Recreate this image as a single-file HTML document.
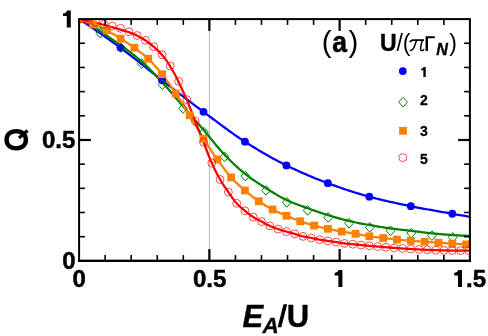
<!DOCTYPE html>
<html><head><meta charset="utf-8"><title>chart</title>
<style>html,body{margin:0;padding:0;background:#fff;}body{width:488px;height:336px;position:relative;overflow:hidden;font-family:"Liberation Sans",sans-serif;}</style>
</head><body>
<svg width="488" height="336" viewBox="0 0 488 336" style="position:absolute;left:0;top:0;will-change:transform">
<defs><clipPath id="c"><rect x="79.10" y="19.10" width="390.80" height="241.75"/></clipPath></defs>
<line x1="209.37" y1="19.10" x2="209.37" y2="260.85" stroke="#b8b8b8" stroke-width="1"/>
<g clip-path="url(#c)">
<path d="M79.10,19.10 L80.41,19.95 L81.71,20.81 L83.02,21.67 L84.33,22.53 L85.64,23.40 L86.94,24.27 L88.25,25.14 L89.56,26.02 L90.86,26.90 L92.17,27.78 L93.48,28.67 L94.78,29.56 L96.09,30.46 L97.40,31.36 L98.71,32.26 L100.01,33.17 L101.32,34.08 L102.63,34.99 L103.93,35.91 L105.24,36.83 L106.55,37.75 L107.85,38.68 L109.16,39.61 L110.47,40.54 L111.78,41.48 L113.08,42.42 L114.39,43.37 L115.70,44.31 L117.00,45.26 L118.31,46.22 L119.62,47.17 L120.92,48.13 L122.23,49.10 L123.54,50.07 L124.85,51.06 L126.15,52.05 L127.46,53.04 L128.77,54.04 L130.07,55.05 L131.38,56.07 L132.69,57.08 L133.99,58.11 L135.30,59.13 L136.61,60.16 L137.92,61.19 L139.22,62.23 L140.53,63.27 L141.84,64.31 L143.14,65.35 L144.45,66.39 L145.76,67.43 L147.07,68.47 L148.37,69.51 L149.68,70.56 L150.99,71.59 L152.29,72.63 L153.60,73.67 L154.91,74.70 L156.21,75.73 L157.52,76.76 L158.83,77.78 L160.14,78.80 L161.44,79.81 L162.75,80.82 L164.06,81.83 L165.36,82.83 L166.67,83.84 L167.98,84.85 L169.28,85.86 L170.59,86.86 L171.90,87.87 L173.21,88.88 L174.51,89.88 L175.82,90.89 L177.13,91.89 L178.43,92.89 L179.74,93.90 L181.05,94.90 L182.35,95.90 L183.66,96.90 L184.97,97.89 L186.28,98.89 L187.58,99.88 L188.89,100.88 L190.20,101.87 L191.50,102.86 L192.81,103.84 L194.12,104.83 L195.43,105.81 L196.73,106.79 L198.04,107.77 L199.35,108.75 L200.65,109.72 L201.96,110.70 L203.27,111.67 L204.57,112.64 L205.88,113.61 L207.19,114.58 L208.50,115.56 L209.80,116.54 L211.11,117.52 L212.42,118.50 L213.72,119.48 L215.03,120.46 L216.34,121.44 L217.64,122.42 L218.95,123.39 L220.26,124.37 L221.57,125.34 L222.87,126.31 L224.18,127.27 L225.49,128.23 L226.79,129.19 L228.10,130.14 L229.41,131.09 L230.71,132.02 L232.02,132.96 L233.33,133.88 L234.64,134.80 L235.94,135.71 L237.25,136.61 L238.56,137.50 L239.86,138.38 L241.17,139.25 L242.48,140.11 L243.78,140.96 L245.09,141.80 L246.40,142.63 L247.71,143.46 L249.01,144.28 L250.32,145.09 L251.63,145.91 L252.93,146.72 L254.24,147.52 L255.55,148.32 L256.86,149.11 L258.16,149.90 L259.47,150.68 L260.78,151.45 L262.08,152.23 L263.39,152.99 L264.70,153.75 L266.00,154.50 L267.31,155.25 L268.62,155.99 L269.93,156.73 L271.23,157.45 L272.54,158.18 L273.85,158.89 L275.15,159.60 L276.46,160.30 L277.77,160.99 L279.07,161.68 L280.38,162.36 L281.69,163.03 L283.00,163.70 L284.30,164.36 L285.61,165.01 L286.92,165.65 L288.22,166.28 L289.53,166.91 L290.84,167.54 L292.14,168.16 L293.45,168.78 L294.76,169.39 L296.07,169.99 L297.37,170.59 L298.68,171.19 L299.99,171.78 L301.29,172.36 L302.60,172.94 L303.91,173.52 L305.22,174.09 L306.52,174.65 L307.83,175.21 L309.14,175.77 L310.44,176.32 L311.75,176.86 L313.06,177.40 L314.36,177.94 L315.67,178.47 L316.98,178.99 L318.29,179.51 L319.59,180.03 L320.90,180.54 L322.21,181.05 L323.51,181.55 L324.82,182.05 L326.13,182.54 L327.43,183.03 L328.74,183.51 L330.05,184.00 L331.36,184.47 L332.66,184.95 L333.97,185.42 L335.28,185.89 L336.58,186.36 L337.89,186.82 L339.20,187.28 L340.50,187.73 L341.81,188.19 L343.12,188.64 L344.43,189.08 L345.73,189.52 L347.04,189.96 L348.35,190.39 L349.65,190.82 L350.96,191.24 L352.27,191.66 L353.57,192.08 L354.88,192.49 L356.19,192.90 L357.50,193.30 L358.80,193.70 L360.11,194.09 L361.42,194.48 L362.72,194.86 L364.03,195.23 L365.34,195.61 L366.65,195.97 L367.95,196.33 L369.26,196.69 L370.57,197.04 L371.87,197.38 L373.18,197.72 L374.49,198.06 L375.79,198.39 L377.10,198.72 L378.41,199.05 L379.72,199.37 L381.02,199.69 L382.33,200.00 L383.64,200.32 L384.94,200.62 L386.25,200.93 L387.56,201.23 L388.86,201.53 L390.17,201.83 L391.48,202.12 L392.79,202.41 L394.09,202.70 L395.40,202.99 L396.71,203.27 L398.01,203.55 L399.32,203.83 L400.63,204.11 L401.93,204.38 L403.24,204.66 L404.55,204.93 L405.86,205.20 L407.16,205.47 L408.47,205.74 L409.78,206.00 L411.08,206.27 L412.39,206.53 L413.70,206.79 L415.01,207.05 L416.31,207.30 L417.62,207.55 L418.93,207.80 L420.23,208.05 L421.54,208.29 L422.85,208.54 L424.15,208.78 L425.46,209.02 L426.77,209.26 L428.08,209.49 L429.38,209.73 L430.69,209.96 L432.00,210.19 L433.30,210.42 L434.61,210.65 L435.92,210.88 L437.22,211.11 L438.53,211.34 L439.84,211.57 L441.15,211.80 L442.45,212.03 L443.76,212.25 L445.07,212.48 L446.37,212.71 L447.68,212.94 L448.99,213.17 L450.29,213.40 L451.60,213.64 L452.91,213.87 L454.22,214.10 L455.52,214.33 L456.83,214.56 L458.14,214.79 L459.44,215.02 L460.75,215.25 L462.06,215.48 L463.36,215.71 L464.67,215.94 L465.98,216.17 L467.29,216.40 L468.59,216.62 L469.90,216.85" fill="none" stroke="#0000ff" stroke-width="2.25"/>
<path d="M79.10,16.60 L80.41,17.48 L81.71,18.36 L83.02,19.25 L84.33,20.14 L85.64,21.02 L86.94,21.92 L88.25,22.81 L89.56,23.71 L90.86,24.61 L92.17,25.51 L93.48,26.41 L94.78,27.32 L96.09,28.23 L97.40,29.15 L98.71,30.07 L100.01,30.99 L101.32,31.91 L102.63,32.82 L103.93,33.73 L105.24,34.64 L106.55,35.54 L107.85,36.43 L109.16,37.33 L110.47,38.23 L111.78,39.12 L113.08,40.02 L114.39,40.92 L115.70,41.82 L117.00,42.72 L118.31,43.63 L119.62,44.54 L120.92,45.46 L122.23,46.39 L123.54,47.32 L124.85,48.26 L126.15,49.22 L127.46,50.18 L128.77,51.15 L130.07,52.13 L131.38,53.13 L132.69,54.14 L133.99,55.17 L135.30,56.21 L136.61,57.27 L137.92,58.34 L139.22,59.43 L140.53,60.54 L141.84,61.67 L143.14,62.84 L144.45,64.04 L145.76,65.27 L147.07,66.53 L148.37,67.82 L149.68,69.14 L150.99,70.47 L152.29,71.82 L153.60,73.19 L154.91,74.58 L156.21,75.97 L157.52,77.37 L158.83,78.78 L160.14,80.19 L161.44,81.60 L162.75,83.01 L164.06,84.44 L165.36,85.90 L166.67,87.37 L167.98,88.85 L169.28,90.35 L170.59,91.86 L171.90,93.38 L173.21,94.90 L174.51,96.43 L175.82,97.96 L177.13,99.50 L178.43,101.03 L179.74,102.55 L181.05,104.07 L182.35,105.58 L183.66,107.08 L184.97,108.58 L186.28,110.07 L187.58,111.56 L188.89,113.06 L190.20,114.55 L191.50,116.04 L192.81,117.53 L194.12,119.03 L195.43,120.52 L196.73,122.02 L198.04,123.52 L199.35,125.03 L200.65,126.54 L201.96,128.05 L203.27,129.57 L204.57,131.10 L205.88,132.66 L207.19,134.24 L208.50,135.83 L209.80,137.44 L211.11,139.05 L212.42,140.66 L213.72,142.26 L215.03,143.86 L216.34,145.44 L217.64,147.00 L218.95,148.54 L220.26,150.05 L221.57,151.52 L222.87,152.96 L224.18,154.35 L225.49,155.70 L226.79,157.05 L228.10,158.38 L229.41,159.69 L230.71,160.98 L232.02,162.26 L233.33,163.52 L234.64,164.76 L235.94,165.98 L237.25,167.17 L238.56,168.35 L239.86,169.50 L241.17,170.62 L242.48,171.72 L243.78,172.80 L245.09,173.84 L246.40,174.86 L247.71,175.86 L249.01,176.84 L250.32,177.79 L251.63,178.73 L252.93,179.65 L254.24,180.55 L255.55,181.44 L256.86,182.32 L258.16,183.18 L259.47,184.04 L260.78,184.88 L262.08,185.72 L263.39,186.55 L264.70,187.37 L266.00,188.20 L267.31,189.02 L268.62,189.84 L269.93,190.66 L271.23,191.47 L272.54,192.28 L273.85,193.07 L275.15,193.86 L276.46,194.64 L277.77,195.40 L279.07,196.15 L280.38,196.88 L281.69,197.59 L283.00,198.28 L284.30,198.94 L285.61,199.58 L286.92,200.19 L288.22,200.79 L289.53,201.36 L290.84,201.92 L292.14,202.46 L293.45,202.99 L294.76,203.50 L296.07,204.01 L297.37,204.50 L298.68,204.99 L299.99,205.47 L301.29,205.95 L302.60,206.42 L303.91,206.89 L305.22,207.36 L306.52,207.84 L307.83,208.31 L309.14,208.78 L310.44,209.25 L311.75,209.71 L313.06,210.17 L314.36,210.63 L315.67,211.08 L316.98,211.53 L318.29,211.97 L319.59,212.41 L320.90,212.85 L322.21,213.28 L323.51,213.70 L324.82,214.12 L326.13,214.53 L327.43,214.94 L328.74,215.34 L330.05,215.74 L331.36,216.13 L332.66,216.53 L333.97,216.92 L335.28,217.31 L336.58,217.69 L337.89,218.07 L339.20,218.44 L340.50,218.80 L341.81,219.16 L343.12,219.51 L344.43,219.85 L345.73,220.18 L347.04,220.50 L348.35,220.81 L349.65,221.12 L350.96,221.41 L352.27,221.70 L353.57,221.97 L354.88,222.25 L356.19,222.52 L357.50,222.78 L358.80,223.03 L360.11,223.29 L361.42,223.54 L362.72,223.78 L364.03,224.02 L365.34,224.26 L366.65,224.50 L367.95,224.74 L369.26,224.97 L370.57,225.20 L371.87,225.44 L373.18,225.67 L374.49,225.90 L375.79,226.13 L377.10,226.35 L378.41,226.57 L379.72,226.79 L381.02,227.01 L382.33,227.22 L383.64,227.42 L384.94,227.63 L386.25,227.82 L387.56,228.02 L388.86,228.20 L390.17,228.38 L391.48,228.56 L392.79,228.73 L394.09,228.89 L395.40,229.05 L396.71,229.20 L398.01,229.35 L399.32,229.50 L400.63,229.65 L401.93,229.79 L403.24,229.93 L404.55,230.08 L405.86,230.22 L407.16,230.37 L408.47,230.52 L409.78,230.67 L411.08,230.82 L412.39,230.98 L413.70,231.14 L415.01,231.31 L416.31,231.47 L417.62,231.64 L418.93,231.81 L420.23,231.98 L421.54,232.14 L422.85,232.31 L424.15,232.47 L425.46,232.63 L426.77,232.78 L428.08,232.93 L429.38,233.08 L430.69,233.22 L432.00,233.35 L433.30,233.48 L434.61,233.60 L435.92,233.73 L437.22,233.85 L438.53,233.97 L439.84,234.08 L441.15,234.20 L442.45,234.31 L443.76,234.42 L445.07,234.52 L446.37,234.62 L447.68,234.72 L448.99,234.82 L450.29,234.91 L451.60,235.00 L452.91,235.09 L454.22,235.17 L455.52,235.25 L456.83,235.32 L458.14,235.39 L459.44,235.46 L460.75,235.52 L462.06,235.57 L463.36,235.63 L464.67,235.68 L465.98,235.72 L467.29,235.76 L468.59,235.79 L469.90,235.82" fill="none" stroke="#008000" stroke-width="2.25"/>
<path d="M79.10,19.10 L80.41,19.58 L81.71,20.06 L83.02,20.55 L84.33,21.04 L85.64,21.54 L86.94,22.05 L88.25,22.56 L89.56,23.07 L90.86,23.59 L92.17,24.12 L93.48,24.64 L94.78,25.17 L96.09,25.69 L97.40,26.21 L98.71,26.74 L100.01,27.28 L101.32,27.83 L102.63,28.39 L103.93,28.98 L105.24,29.58 L106.55,30.22 L107.85,30.89 L109.16,31.60 L110.47,32.35 L111.78,33.12 L113.08,33.92 L114.39,34.74 L115.70,35.57 L117.00,36.41 L118.31,37.25 L119.62,38.08 L120.92,38.91 L122.23,39.73 L123.54,40.55 L124.85,41.38 L126.15,42.21 L127.46,43.05 L128.77,43.90 L130.07,44.77 L131.38,45.65 L132.69,46.55 L133.99,47.47 L135.30,48.41 L136.61,49.36 L137.92,50.32 L139.22,51.29 L140.53,52.29 L141.84,53.31 L143.14,54.35 L144.45,55.43 L145.76,56.55 L147.07,57.70 L148.37,58.90 L149.68,60.15 L150.99,61.47 L152.29,62.83 L153.60,64.24 L154.91,65.70 L156.21,67.20 L157.52,68.73 L158.83,70.29 L160.14,71.88 L161.44,73.49 L162.75,75.12 L164.06,76.80 L165.36,78.53 L166.67,80.31 L167.98,82.12 L169.28,83.97 L170.59,85.84 L171.90,87.74 L173.21,89.65 L174.51,91.58 L175.82,93.51 L177.13,95.46 L178.43,97.44 L179.74,99.45 L181.05,101.48 L182.35,103.53 L183.66,105.60 L184.97,107.69 L186.28,109.80 L187.58,111.91 L188.89,114.04 L190.20,116.17 L191.50,118.35 L192.81,120.58 L194.12,122.82 L195.43,125.09 L196.73,127.36 L198.04,129.63 L199.35,131.87 L200.65,134.09 L201.96,136.26 L203.27,138.38 L204.57,140.45 L205.88,142.49 L207.19,144.52 L208.50,146.52 L209.80,148.49 L211.11,150.45 L212.42,152.38 L213.72,154.28 L215.03,156.16 L216.34,158.01 L217.64,159.84 L218.95,161.67 L220.26,163.49 L221.57,165.31 L222.87,167.10 L224.18,168.87 L225.49,170.60 L226.79,172.28 L228.10,173.91 L229.41,175.48 L230.71,176.98 L232.02,178.40 L233.33,179.78 L234.64,181.11 L235.94,182.39 L237.25,183.65 L238.56,184.86 L239.86,186.05 L241.17,187.22 L242.48,188.37 L243.78,189.49 L245.09,190.61 L246.40,191.72 L247.71,192.81 L249.01,193.89 L250.32,194.94 L251.63,195.98 L252.93,197.00 L254.24,197.99 L255.55,198.96 L256.86,199.90 L258.16,200.81 L259.47,201.70 L260.78,202.56 L262.08,203.41 L263.39,204.23 L264.70,205.04 L266.00,205.83 L267.31,206.60 L268.62,207.35 L269.93,208.08 L271.23,208.78 L272.54,209.47 L273.85,210.13 L275.15,210.77 L276.46,211.40 L277.77,212.00 L279.07,212.59 L280.38,213.17 L281.69,213.74 L283.00,214.31 L284.30,214.86 L285.61,215.42 L286.92,215.97 L288.22,216.53 L289.53,217.08 L290.84,217.62 L292.14,218.16 L293.45,218.70 L294.76,219.22 L296.07,219.73 L297.37,220.23 L298.68,220.72 L299.99,221.18 L301.29,221.64 L302.60,222.08 L303.91,222.52 L305.22,222.94 L306.52,223.36 L307.83,223.76 L309.14,224.16 L310.44,224.54 L311.75,224.92 L313.06,225.28 L314.36,225.63 L315.67,225.97 L316.98,226.30 L318.29,226.62 L319.59,226.94 L320.90,227.24 L322.21,227.54 L323.51,227.83 L324.82,228.12 L326.13,228.41 L327.43,228.69 L328.74,228.98 L330.05,229.26 L331.36,229.54 L332.66,229.82 L333.97,230.09 L335.28,230.36 L336.58,230.63 L337.89,230.89 L339.20,231.14 L340.50,231.38 L341.81,231.62 L343.12,231.84 L344.43,232.06 L345.73,232.26 L347.04,232.46 L348.35,232.66 L349.65,232.85 L350.96,233.05 L352.27,233.25 L353.57,233.45 L354.88,233.67 L356.19,233.89 L357.50,234.12 L358.80,234.36 L360.11,234.61 L361.42,234.86 L362.72,235.12 L364.03,235.37 L365.34,235.61 L366.65,235.85 L367.95,236.07 L369.26,236.27 L370.57,236.47 L371.87,236.65 L373.18,236.83 L374.49,237.00 L375.79,237.17 L377.10,237.33 L378.41,237.49 L379.72,237.64 L381.02,237.80 L382.33,237.95 L383.64,238.11 L384.94,238.26 L386.25,238.41 L387.56,238.56 L388.86,238.71 L390.17,238.86 L391.48,239.00 L392.79,239.14 L394.09,239.28 L395.40,239.42 L396.71,239.55 L398.01,239.67 L399.32,239.80 L400.63,239.92 L401.93,240.04 L403.24,240.16 L404.55,240.27 L405.86,240.38 L407.16,240.49 L408.47,240.60 L409.78,240.70 L411.08,240.81 L412.39,240.90 L413.70,241.00 L415.01,241.09 L416.31,241.18 L417.62,241.27 L418.93,241.36 L420.23,241.45 L421.54,241.54 L422.85,241.63 L424.15,241.72 L425.46,241.81 L426.77,241.90 L428.08,241.99 L429.38,242.09 L430.69,242.18 L432.00,242.27 L433.30,242.36 L434.61,242.45 L435.92,242.54 L437.22,242.63 L438.53,242.72 L439.84,242.81 L441.15,242.90 L442.45,242.99 L443.76,243.08 L445.07,243.17 L446.37,243.26 L447.68,243.34 L448.99,243.43 L450.29,243.51 L451.60,243.60 L452.91,243.68 L454.22,243.75 L455.52,243.83 L456.83,243.91 L458.14,243.98 L459.44,244.06 L460.75,244.13 L462.06,244.20 L463.36,244.27 L464.67,244.34 L465.98,244.40 L467.29,244.47 L468.59,244.53 L469.90,244.60" fill="none" stroke="#ff7f00" stroke-width="2.25"/>
<path d="M79.10,19.10 L80.41,19.35 L81.71,19.61 L83.02,19.88 L84.33,20.15 L85.64,20.43 L86.94,20.71 L88.25,21.00 L89.56,21.30 L90.86,21.60 L92.17,21.91 L93.48,22.23 L94.78,22.56 L96.09,22.89 L97.40,23.22 L98.71,23.56 L100.01,23.90 L101.32,24.24 L102.63,24.59 L103.93,24.94 L105.24,25.29 L106.55,25.64 L107.85,26.00 L109.16,26.35 L110.47,26.72 L111.78,27.08 L113.08,27.45 L114.39,27.82 L115.70,28.20 L117.00,28.57 L118.31,28.94 L119.62,29.32 L120.92,29.69 L122.23,30.08 L123.54,30.47 L124.85,30.87 L126.15,31.29 L127.46,31.72 L128.77,32.17 L130.07,32.64 L131.38,33.13 L132.69,33.64 L133.99,34.18 L135.30,34.74 L136.61,35.34 L137.92,35.98 L139.22,36.66 L140.53,37.39 L141.84,38.16 L143.14,38.96 L144.45,39.79 L145.76,40.66 L147.07,41.56 L148.37,42.50 L149.68,43.49 L150.99,44.52 L152.29,45.58 L153.60,46.68 L154.91,47.80 L156.21,48.96 L157.52,50.15 L158.83,51.40 L160.14,52.73 L161.44,54.13 L162.75,55.65 L164.06,57.31 L165.36,59.09 L166.67,60.98 L167.98,62.95 L169.28,64.98 L170.59,67.04 L171.90,69.21 L173.21,71.47 L174.51,73.83 L175.82,76.28 L177.13,78.85 L178.43,81.60 L179.74,84.38 L181.05,87.16 L182.35,89.97 L183.66,92.82 L184.97,95.73 L186.28,98.72 L187.58,101.80 L188.89,105.01 L190.20,108.32 L191.50,111.68 L192.81,115.07 L194.12,118.44 L195.43,121.77 L196.73,125.07 L198.04,128.36 L199.35,131.65 L200.65,134.93 L201.96,138.22 L203.27,141.51 L204.57,144.84 L205.88,148.25 L207.19,151.67 L208.50,155.05 L209.80,158.33 L211.11,161.46 L212.42,164.39 L213.72,167.21 L215.03,169.94 L216.34,172.57 L217.64,175.10 L218.95,177.51 L220.26,179.80 L221.57,181.97 L222.87,184.04 L224.18,186.01 L225.49,187.93 L226.79,189.81 L228.10,191.68 L229.41,193.56 L230.71,195.46 L232.02,197.34 L233.33,199.17 L234.64,200.90 L235.94,202.50 L237.25,203.94 L238.56,205.26 L239.86,206.49 L241.17,207.66 L242.48,208.78 L243.78,209.86 L245.09,210.94 L246.40,212.01 L247.71,213.07 L249.01,214.09 L250.32,215.08 L251.63,216.02 L252.93,216.89 L254.24,217.70 L255.55,218.44 L256.86,219.15 L258.16,219.82 L259.47,220.49 L260.78,221.16 L262.08,221.85 L263.39,222.57 L264.70,223.29 L266.00,224.01 L267.31,224.70 L268.62,225.35 L269.93,225.95 L271.23,226.51 L272.54,227.04 L273.85,227.54 L275.15,228.02 L276.46,228.48 L277.77,228.94 L279.07,229.38 L280.38,229.80 L281.69,230.21 L283.00,230.61 L284.30,231.00 L285.61,231.38 L286.92,231.76 L288.22,232.13 L289.53,232.48 L290.84,232.83 L292.14,233.18 L293.45,233.54 L294.76,233.91 L296.07,234.30 L297.37,234.72 L298.68,235.14 L299.99,235.56 L301.29,235.94 L302.60,236.29 L303.91,236.58 L305.22,236.84 L306.52,237.07 L307.83,237.29 L309.14,237.51 L310.44,237.74 L311.75,238.00 L313.06,238.28 L314.36,238.58 L315.67,238.88 L316.98,239.17 L318.29,239.45 L319.59,239.70 L320.90,239.91 L322.21,240.11 L323.51,240.30 L324.82,240.48 L326.13,240.66 L327.43,240.84 L328.74,241.03 L330.05,241.22 L331.36,241.41 L332.66,241.59 L333.97,241.78 L335.28,241.98 L336.58,242.18 L337.89,242.39 L339.20,242.61 L340.50,242.83 L341.81,243.04 L343.12,243.24 L344.43,243.41 L345.73,243.57 L347.04,243.70 L348.35,243.83 L349.65,243.96 L350.96,244.08 L352.27,244.20 L353.57,244.33 L354.88,244.46 L356.19,244.59 L357.50,244.71 L358.80,244.84 L360.11,244.96 L361.42,245.09 L362.72,245.21 L364.03,245.34 L365.34,245.46 L366.65,245.58 L367.95,245.70 L369.26,245.82 L370.57,245.94 L371.87,246.06 L373.18,246.17 L374.49,246.29 L375.79,246.40 L377.10,246.52 L378.41,246.63 L379.72,246.74 L381.02,246.85 L382.33,246.96 L383.64,247.07 L384.94,247.17 L386.25,247.28 L387.56,247.38 L388.86,247.49 L390.17,247.59 L391.48,247.69 L392.79,247.79 L394.09,247.89 L395.40,247.98 L396.71,248.08 L398.01,248.17 L399.32,248.26 L400.63,248.35 L401.93,248.44 L403.24,248.53 L404.55,248.62 L405.86,248.70 L407.16,248.79 L408.47,248.87 L409.78,248.95 L411.08,249.03 L412.39,249.10 L413.70,249.18 L415.01,249.25 L416.31,249.33 L417.62,249.40 L418.93,249.46 L420.23,249.53 L421.54,249.60 L422.85,249.66 L424.15,249.72 L425.46,249.78 L426.77,249.84 L428.08,249.89 L429.38,249.95 L430.69,250.00 L432.00,250.05 L433.30,250.10 L434.61,250.14 L435.92,250.18 L437.22,250.23 L438.53,250.27 L439.84,250.30 L441.15,250.34 L442.45,250.37 L443.76,250.40 L445.07,250.43 L446.37,250.46 L447.68,250.48 L448.99,250.51 L450.29,250.53 L451.60,250.54 L452.91,250.56 L454.22,250.57 L455.52,250.58 L456.83,250.59 L458.14,250.59 L459.44,250.60 L460.75,250.60 L462.06,250.60 L463.36,250.59 L464.67,250.58 L465.98,250.57 L467.29,250.56 L468.59,250.55 L469.90,250.54" fill="none" stroke="#ff0000" stroke-width="2.25"/>
<circle cx="79.10" cy="19.10" r="3.9" fill="#0000ff"/>
<circle cx="120.57" cy="47.87" r="3.9" fill="#0000ff"/>
<circle cx="162.03" cy="80.26" r="3.9" fill="#0000ff"/>
<circle cx="203.50" cy="111.84" r="3.9" fill="#0000ff"/>
<circle cx="244.96" cy="141.72" r="3.9" fill="#0000ff"/>
<circle cx="286.43" cy="165.41" r="3.9" fill="#0000ff"/>
<circle cx="327.89" cy="183.20" r="3.9" fill="#0000ff"/>
<circle cx="369.36" cy="196.71" r="3.9" fill="#0000ff"/>
<circle cx="410.82" cy="206.21" r="3.9" fill="#0000ff"/>
<circle cx="452.29" cy="213.76" r="3.9" fill="#0000ff"/>
<path d="M79.50,14.10 l4.4,4.85 l-4.4,4.85 l-4.4,-4.85 z" fill="none" stroke="#008000" stroke-width="1"/>
<path d="M100.23,28.36 l4.4,4.85 l-4.4,4.85 l-4.4,-4.85 z" fill="none" stroke="#008000" stroke-width="1"/>
<path d="M120.97,42.71 l4.4,4.85 l-4.4,4.85 l-4.4,-4.85 z" fill="none" stroke="#008000" stroke-width="1"/>
<path d="M141.70,58.70 l4.4,4.85 l-4.4,4.85 l-4.4,-4.85 z" fill="none" stroke="#008000" stroke-width="1"/>
<path d="M162.43,79.74 l4.4,4.85 l-4.4,4.85 l-4.4,-4.85 z" fill="none" stroke="#008000" stroke-width="1"/>
<path d="M183.16,103.55 l4.4,4.85 l-4.4,4.85 l-4.4,-4.85 z" fill="none" stroke="#008000" stroke-width="1"/>
<path d="M203.90,127.34 l4.4,4.85 l-4.4,4.85 l-4.4,-4.85 z" fill="none" stroke="#008000" stroke-width="1"/>
<path d="M224.63,151.90 l4.4,4.85 l-4.4,4.85 l-4.4,-4.85 z" fill="none" stroke="#008000" stroke-width="1"/>
<path d="M245.36,171.24 l4.4,4.85 l-4.4,4.85 l-4.4,-4.85 z" fill="none" stroke="#008000" stroke-width="1"/>
<path d="M266.09,185.50 l4.4,4.85 l-4.4,4.85 l-4.4,-4.85 z" fill="none" stroke="#008000" stroke-width="1"/>
<path d="M286.83,197.47 l4.4,4.85 l-4.4,4.85 l-4.4,-4.85 z" fill="none" stroke="#008000" stroke-width="1"/>
<path d="M307.56,205.57 l4.4,4.85 l-4.4,4.85 l-4.4,-4.85 z" fill="none" stroke="#008000" stroke-width="1"/>
<path d="M328.29,212.58 l4.4,4.85 l-4.4,4.85 l-4.4,-4.85 z" fill="none" stroke="#008000" stroke-width="1"/>
<path d="M349.02,218.38 l4.4,4.85 l-4.4,4.85 l-4.4,-4.85 z" fill="none" stroke="#008000" stroke-width="1"/>
<path d="M369.76,222.49 l4.4,4.85 l-4.4,4.85 l-4.4,-4.85 z" fill="none" stroke="#008000" stroke-width="1"/>
<path d="M390.49,225.87 l4.4,4.85 l-4.4,4.85 l-4.4,-4.85 z" fill="none" stroke="#008000" stroke-width="1"/>
<path d="M411.22,228.29 l4.4,4.85 l-4.4,4.85 l-4.4,-4.85 z" fill="none" stroke="#008000" stroke-width="1"/>
<path d="M431.95,230.80 l4.4,4.85 l-4.4,4.85 l-4.4,-4.85 z" fill="none" stroke="#008000" stroke-width="1"/>
<path d="M452.69,232.55 l4.4,4.85 l-4.4,4.85 l-4.4,-4.85 z" fill="none" stroke="#008000" stroke-width="1"/>
<rect x="75.20" y="15.20" width="7.8" height="7.8" fill="#ff7f00"/>
<rect x="89.02" y="20.52" width="7.8" height="7.8" fill="#ff7f00"/>
<rect x="102.84" y="26.42" width="7.8" height="7.8" fill="#ff7f00"/>
<rect x="116.67" y="34.78" width="7.8" height="7.8" fill="#ff7f00"/>
<rect x="130.49" y="43.85" width="7.8" height="7.8" fill="#ff7f00"/>
<rect x="144.31" y="54.85" width="7.8" height="7.8" fill="#ff7f00"/>
<rect x="158.13" y="70.32" width="7.8" height="7.8" fill="#ff7f00"/>
<rect x="171.95" y="89.66" width="7.8" height="7.8" fill="#ff7f00"/>
<rect x="185.77" y="111.42" width="7.8" height="7.8" fill="#ff7f00"/>
<rect x="199.60" y="134.84" width="7.8" height="7.8" fill="#ff7f00"/>
<rect x="213.42" y="155.49" width="7.8" height="7.8" fill="#ff7f00"/>
<rect x="227.24" y="173.55" width="7.8" height="7.8" fill="#ff7f00"/>
<rect x="241.06" y="186.60" width="7.8" height="7.8" fill="#ff7f00"/>
<rect x="254.88" y="197.33" width="7.8" height="7.8" fill="#ff7f00"/>
<rect x="268.70" y="205.60" width="7.8" height="7.8" fill="#ff7f00"/>
<rect x="282.53" y="211.86" width="7.8" height="7.8" fill="#ff7f00"/>
<rect x="296.35" y="217.38" width="7.8" height="7.8" fill="#ff7f00"/>
<rect x="310.17" y="221.65" width="7.8" height="7.8" fill="#ff7f00"/>
<rect x="323.99" y="224.89" width="7.8" height="7.8" fill="#ff7f00"/>
<rect x="337.81" y="227.70" width="7.8" height="7.8" fill="#ff7f00"/>
<rect x="351.63" y="229.87" width="7.8" height="7.8" fill="#ff7f00"/>
<rect x="365.46" y="232.39" width="7.8" height="7.8" fill="#ff7f00"/>
<rect x="379.28" y="234.15" width="7.8" height="7.8" fill="#ff7f00"/>
<rect x="393.10" y="235.68" width="7.8" height="7.8" fill="#ff7f00"/>
<rect x="406.92" y="236.88" width="7.8" height="7.8" fill="#ff7f00"/>
<rect x="420.74" y="237.85" width="7.8" height="7.8" fill="#ff7f00"/>
<rect x="434.56" y="238.82" width="7.8" height="7.8" fill="#ff7f00"/>
<rect x="448.39" y="239.74" width="7.8" height="7.8" fill="#ff7f00"/>
<rect x="462.21" y="240.51" width="7.8" height="7.8" fill="#ff7f00"/>
<circle cx="79.10" cy="19.10" r="3.95" fill="none" stroke="#ff0000" stroke-width="0.7"/>
<circle cx="87.39" cy="20.30" r="3.95" fill="none" stroke="#ff0000" stroke-width="0.7"/>
<circle cx="95.69" cy="22.20" r="3.95" fill="none" stroke="#ff0000" stroke-width="0.7"/>
<circle cx="103.98" cy="24.25" r="3.95" fill="none" stroke="#ff0000" stroke-width="0.7"/>
<circle cx="112.27" cy="26.10" r="3.95" fill="none" stroke="#ff0000" stroke-width="0.7"/>
<circle cx="120.57" cy="28.30" r="3.95" fill="none" stroke="#ff0000" stroke-width="0.7"/>
<circle cx="128.86" cy="31.75" r="3.95" fill="none" stroke="#ff0000" stroke-width="0.7"/>
<circle cx="137.15" cy="35.50" r="3.95" fill="none" stroke="#ff0000" stroke-width="0.7"/>
<circle cx="145.44" cy="40.30" r="3.95" fill="none" stroke="#ff0000" stroke-width="0.7"/>
<circle cx="153.74" cy="46.75" r="3.95" fill="none" stroke="#ff0000" stroke-width="0.7"/>
<circle cx="162.03" cy="54.70" r="3.95" fill="none" stroke="#ff0000" stroke-width="0.7"/>
<circle cx="170.32" cy="66.00" r="3.95" fill="none" stroke="#ff0000" stroke-width="0.7"/>
<circle cx="178.62" cy="81.25" r="3.95" fill="none" stroke="#ff0000" stroke-width="0.7"/>
<circle cx="186.91" cy="99.70" r="3.95" fill="none" stroke="#ff0000" stroke-width="0.7"/>
<circle cx="195.20" cy="121.10" r="3.95" fill="none" stroke="#ff0000" stroke-width="0.7"/>
<circle cx="203.50" cy="142.10" r="3.95" fill="none" stroke="#ff0000" stroke-width="0.7"/>
<circle cx="211.79" cy="163.00" r="3.95" fill="none" stroke="#ff0000" stroke-width="0.7"/>
<circle cx="220.08" cy="179.50" r="3.95" fill="none" stroke="#ff0000" stroke-width="0.7"/>
<circle cx="228.37" cy="192.07" r="3.95" fill="none" stroke="#ff0000" stroke-width="0.7"/>
<circle cx="236.67" cy="203.31" r="3.95" fill="none" stroke="#ff0000" stroke-width="0.7"/>
<circle cx="244.96" cy="210.83" r="3.95" fill="none" stroke="#ff0000" stroke-width="0.7"/>
<circle cx="253.25" cy="217.09" r="3.95" fill="none" stroke="#ff0000" stroke-width="0.7"/>
<circle cx="261.55" cy="221.57" r="3.95" fill="none" stroke="#ff0000" stroke-width="0.7"/>
<circle cx="269.84" cy="225.92" r="3.95" fill="none" stroke="#ff0000" stroke-width="0.7"/>
<circle cx="278.13" cy="229.06" r="3.95" fill="none" stroke="#ff0000" stroke-width="0.7"/>
<circle cx="286.43" cy="231.62" r="3.95" fill="none" stroke="#ff0000" stroke-width="0.7"/>
<circle cx="294.72" cy="233.89" r="3.95" fill="none" stroke="#ff0000" stroke-width="0.7"/>
<circle cx="303.01" cy="236.38" r="3.95" fill="none" stroke="#ff0000" stroke-width="0.7"/>
<circle cx="311.30" cy="237.91" r="3.95" fill="none" stroke="#ff0000" stroke-width="0.7"/>
<circle cx="319.60" cy="239.70" r="3.95" fill="none" stroke="#ff0000" stroke-width="0.7"/>
<circle cx="327.89" cy="240.91" r="3.95" fill="none" stroke="#ff0000" stroke-width="0.7"/>
<circle cx="336.18" cy="242.11" r="3.95" fill="none" stroke="#ff0000" stroke-width="0.7"/>
<circle cx="344.48" cy="243.42" r="3.95" fill="none" stroke="#ff0000" stroke-width="0.7"/>
<circle cx="352.77" cy="244.25" r="3.95" fill="none" stroke="#ff0000" stroke-width="0.7"/>
<circle cx="361.06" cy="245.06" r="3.95" fill="none" stroke="#ff0000" stroke-width="0.7"/>
<circle cx="369.36" cy="245.83" r="3.95" fill="none" stroke="#ff0000" stroke-width="0.7"/>
<circle cx="377.65" cy="246.56" r="3.95" fill="none" stroke="#ff0000" stroke-width="0.7"/>
<circle cx="385.94" cy="247.25" r="3.95" fill="none" stroke="#ff0000" stroke-width="0.7"/>
<circle cx="394.24" cy="247.90" r="3.95" fill="none" stroke="#ff0000" stroke-width="0.7"/>
<circle cx="402.53" cy="248.48" r="3.95" fill="none" stroke="#ff0000" stroke-width="0.7"/>
<circle cx="410.82" cy="249.01" r="3.95" fill="none" stroke="#ff0000" stroke-width="0.7"/>
<circle cx="419.11" cy="249.47" r="3.95" fill="none" stroke="#ff0000" stroke-width="0.7"/>
<circle cx="427.41" cy="249.86" r="3.95" fill="none" stroke="#ff0000" stroke-width="0.7"/>
<circle cx="435.70" cy="250.18" r="3.95" fill="none" stroke="#ff0000" stroke-width="0.7"/>
<circle cx="443.99" cy="250.41" r="3.95" fill="none" stroke="#ff0000" stroke-width="0.7"/>
<circle cx="452.29" cy="250.55" r="3.95" fill="none" stroke="#ff0000" stroke-width="0.7"/>
<circle cx="460.58" cy="250.60" r="3.95" fill="none" stroke="#ff0000" stroke-width="0.7"/>
<circle cx="468.87" cy="250.55" r="3.95" fill="none" stroke="#ff0000" stroke-width="0.7"/>
</g>
<line x1="105.15" y1="260.85" x2="105.15" y2="255.05" stroke="#000" stroke-width="1.6"/>
<line x1="105.15" y1="19.10" x2="105.15" y2="24.90" stroke="#000" stroke-width="1.6"/>
<line x1="131.21" y1="260.85" x2="131.21" y2="255.05" stroke="#000" stroke-width="1.6"/>
<line x1="131.21" y1="19.10" x2="131.21" y2="24.90" stroke="#000" stroke-width="1.6"/>
<line x1="157.26" y1="260.85" x2="157.26" y2="255.05" stroke="#000" stroke-width="1.6"/>
<line x1="157.26" y1="19.10" x2="157.26" y2="24.90" stroke="#000" stroke-width="1.6"/>
<line x1="183.31" y1="260.85" x2="183.31" y2="255.05" stroke="#000" stroke-width="1.6"/>
<line x1="183.31" y1="19.10" x2="183.31" y2="24.90" stroke="#000" stroke-width="1.6"/>
<line x1="209.37" y1="260.85" x2="209.37" y2="249.05" stroke="#000" stroke-width="2.2"/>
<line x1="209.37" y1="19.10" x2="209.37" y2="30.90" stroke="#000" stroke-width="2.2"/>
<line x1="235.42" y1="260.85" x2="235.42" y2="255.05" stroke="#000" stroke-width="1.6"/>
<line x1="235.42" y1="19.10" x2="235.42" y2="24.90" stroke="#000" stroke-width="1.6"/>
<line x1="261.47" y1="260.85" x2="261.47" y2="255.05" stroke="#000" stroke-width="1.6"/>
<line x1="261.47" y1="19.10" x2="261.47" y2="24.90" stroke="#000" stroke-width="1.6"/>
<line x1="287.53" y1="260.85" x2="287.53" y2="255.05" stroke="#000" stroke-width="1.6"/>
<line x1="287.53" y1="19.10" x2="287.53" y2="24.90" stroke="#000" stroke-width="1.6"/>
<line x1="313.58" y1="260.85" x2="313.58" y2="255.05" stroke="#000" stroke-width="1.6"/>
<line x1="313.58" y1="19.10" x2="313.58" y2="24.90" stroke="#000" stroke-width="1.6"/>
<line x1="339.63" y1="260.85" x2="339.63" y2="249.05" stroke="#000" stroke-width="2.2"/>
<line x1="339.63" y1="19.10" x2="339.63" y2="30.90" stroke="#000" stroke-width="2.2"/>
<line x1="365.69" y1="260.85" x2="365.69" y2="255.05" stroke="#000" stroke-width="1.6"/>
<line x1="365.69" y1="19.10" x2="365.69" y2="24.90" stroke="#000" stroke-width="1.6"/>
<line x1="391.74" y1="260.85" x2="391.74" y2="255.05" stroke="#000" stroke-width="1.6"/>
<line x1="391.74" y1="19.10" x2="391.74" y2="24.90" stroke="#000" stroke-width="1.6"/>
<line x1="417.79" y1="260.85" x2="417.79" y2="255.05" stroke="#000" stroke-width="1.6"/>
<line x1="417.79" y1="19.10" x2="417.79" y2="24.90" stroke="#000" stroke-width="1.6"/>
<line x1="443.85" y1="260.85" x2="443.85" y2="255.05" stroke="#000" stroke-width="1.6"/>
<line x1="443.85" y1="19.10" x2="443.85" y2="24.90" stroke="#000" stroke-width="1.6"/>
<line x1="79.10" y1="236.68" x2="84.90" y2="236.68" stroke="#000" stroke-width="1.6"/>
<line x1="469.90" y1="236.68" x2="464.10" y2="236.68" stroke="#000" stroke-width="1.6"/>
<line x1="79.10" y1="212.50" x2="84.90" y2="212.50" stroke="#000" stroke-width="1.6"/>
<line x1="469.90" y1="212.50" x2="464.10" y2="212.50" stroke="#000" stroke-width="1.6"/>
<line x1="79.10" y1="188.33" x2="84.90" y2="188.33" stroke="#000" stroke-width="1.6"/>
<line x1="469.90" y1="188.33" x2="464.10" y2="188.33" stroke="#000" stroke-width="1.6"/>
<line x1="79.10" y1="164.15" x2="84.90" y2="164.15" stroke="#000" stroke-width="1.6"/>
<line x1="469.90" y1="164.15" x2="464.10" y2="164.15" stroke="#000" stroke-width="1.6"/>
<line x1="79.10" y1="139.98" x2="90.90" y2="139.98" stroke="#000" stroke-width="2.2"/>
<line x1="469.90" y1="139.98" x2="458.10" y2="139.98" stroke="#000" stroke-width="2.2"/>
<line x1="79.10" y1="115.80" x2="84.90" y2="115.80" stroke="#000" stroke-width="1.6"/>
<line x1="469.90" y1="115.80" x2="464.10" y2="115.80" stroke="#000" stroke-width="1.6"/>
<line x1="79.10" y1="91.62" x2="84.90" y2="91.62" stroke="#000" stroke-width="1.6"/>
<line x1="469.90" y1="91.62" x2="464.10" y2="91.62" stroke="#000" stroke-width="1.6"/>
<line x1="79.10" y1="67.45" x2="84.90" y2="67.45" stroke="#000" stroke-width="1.6"/>
<line x1="469.90" y1="67.45" x2="464.10" y2="67.45" stroke="#000" stroke-width="1.6"/>
<line x1="79.10" y1="43.27" x2="84.90" y2="43.27" stroke="#000" stroke-width="1.6"/>
<line x1="469.90" y1="43.27" x2="464.10" y2="43.27" stroke="#000" stroke-width="1.6"/>
<rect x="79.10" y="19.10" width="390.80" height="241.75" fill="none" stroke="#000" stroke-width="2.0"/>
<line x1="78.10" y1="260.85" x2="470.90" y2="260.85" stroke="#000" stroke-width="2.3"/>
<circle cx="402.8" cy="71.1" r="3.9" fill="#0000ff"/>
<path d="M403.1,97.25 l4.4,4.85 l-4.4,4.85 l-4.4,-4.85 z" fill="none" stroke="#008000" stroke-width="1"/>
<rect x="399.1" y="126.9" width="7.8" height="7.8" fill="#ff7f00"/>
<circle cx="402.8" cy="157.6" r="3.95" fill="none" stroke="#ff0000" stroke-width="0.7"/>
<path d="M70.80,27.50 L66.77,27.50 L66.77,16.00 L63.02,16.00 L63.02,13.60 Q66.05,13.36 67.25,10.60 L70.80,10.60 Z" fill="#000"/>
<text x="75.40" y="147.90" font-size="24" text-anchor="end" style="font-family:'Liberation Sans',sans-serif;font-weight:bold;" stroke="#000" stroke-width="0.5" stroke-linejoin="round">0.5</text>
<text x="75.60" y="268.80" font-size="24" text-anchor="end" style="font-family:'Liberation Sans',sans-serif;font-weight:bold;" stroke="#000" stroke-width="0.5" stroke-linejoin="round">0</text>
<text x="79.10" y="286.90" font-size="24" text-anchor="middle" style="font-family:'Liberation Sans',sans-serif;font-weight:bold;" stroke="#000" stroke-width="0.5" stroke-linejoin="round">0</text>
<text x="209.67" y="286.90" font-size="24" text-anchor="middle" style="font-family:'Liberation Sans',sans-serif;font-weight:bold;" stroke="#000" stroke-width="0.5" stroke-linejoin="round">0.5</text>
<path d="M342.40,286.90 L338.37,286.90 L338.37,275.40 L334.62,275.40 L334.62,273.00 Q337.65,272.76 338.85,270.00 L342.40,270.00 Z" fill="#000"/>
<path d="M462.00,286.90 L457.97,286.90 L457.97,275.40 L454.22,275.40 L454.22,273.00 Q457.25,272.76 458.45,270.00 L462.00,270.00 Z" fill="#000"/>
<text x="466.10" y="286.90" font-size="24" text-anchor="start" style="font-family:'Liberation Sans',sans-serif;font-weight:bold;" stroke="#000" stroke-width="0.5" stroke-linejoin="round">.5</text>
<path d="M28.10,139.85 C28.10,146.51 23.60,150.60 16.25,150.60 C8.90,150.60 4.40,146.51 4.40,139.85 C4.40,133.19 8.90,129.10 16.25,129.10 C23.60,129.10 28.10,133.19 28.10,139.85 Z M23.60,139.85 C23.60,143.97 21.10,146.10 16.25,146.10 C11.40,146.10 8.90,143.97 8.90,139.85 C8.90,135.72 11.40,133.60 16.25,133.60 C21.10,133.60 23.60,135.72 23.60,139.85 Z" fill="#000" fill-rule="evenodd"/>
<line x1="19.0" y1="137.9" x2="27.6" y2="130.6" stroke="#000" stroke-width="3.3"/>
<text x="242.60" y="326.80" font-size="31" text-anchor="start" style="font-family:'Liberation Sans',sans-serif;font-weight:bold;font-style:italic;" stroke="#000" stroke-width="0.4" stroke-linejoin="round">E</text>
<text x="262.57" y="332.60" font-size="22.5" text-anchor="start" style="font-family:'Liberation Sans',sans-serif;font-weight:bold;font-style:italic;" stroke="#000" stroke-width="0.3" stroke-linejoin="round">A</text>
<path d="M277.6,327.3 L281.3,327.3 L287.2,304.2 L283.5,304.2 Z" fill="#000"/>
<text x="286.74" y="326.80" font-size="31" text-anchor="start" style="font-family:'Liberation Sans',sans-serif;font-weight:bold;" stroke="#000" stroke-width="0.4" stroke-linejoin="round">U</text>
<text x="321.67" y="51.60" font-size="29.5" text-anchor="start" style="font-family:'Liberation Sans',sans-serif;font-weight:normal;">(</text>
<text transform="translate(332.30,51.70) scale(1,1.1)" font-size="26.5" text-anchor="start" style="font-family:'Liberation Sans',sans-serif;font-weight:bold;" stroke="#000" stroke-width="0.5" stroke-linejoin="round">a</text>
<text x="348.50" y="51.60" font-size="29.5" text-anchor="start" style="font-family:'Liberation Sans',sans-serif;font-weight:normal;">)</text>
<text x="380.00" y="50.90" font-size="23" text-anchor="start" style="font-family:'Liberation Sans',sans-serif;font-weight:bold;" stroke="#000" stroke-width="0.45" stroke-linejoin="round">U</text>
<text x="396.40" y="50.90" font-size="23" text-anchor="start" style="font-family:'Liberation Sans',sans-serif;font-weight:normal;">/</text>
<text x="402.70" y="50.90" font-size="23" text-anchor="start" style="font-family:'Liberation Sans',sans-serif;font-weight:normal;">(</text>
<path d="M409.9,42.2 Q410.8,40.15 412.8,40.15 L424.0,40.1" fill="none" stroke="#000" stroke-width="1.75" stroke-linecap="butt" stroke-linejoin="round"/>
<path d="M416.5,40.3 Q415.3,44.5 413.9,47.6 Q412.8,50.2 410.4,50.5 M422.1,40.3 Q421.2,44.5 420.6,47.9 Q420.2,50.7 421.9,50.6 Q423.1,50.5 423.8,49.6" fill="none" stroke="#000" stroke-width="1.5" stroke-linecap="round" stroke-linejoin="round"/>
<path d="M425.55,50.9 V36.2 H434.8 V38.15 H428.0 V50.9 Z" fill="#000"/>
<text x="436.30" y="54.50" font-size="16.2" text-anchor="start" style="font-family:'Liberation Sans',sans-serif;font-weight:bold;font-style:italic;" stroke="#000" stroke-width="0.3" stroke-linejoin="round">N</text>
<text x="449.20" y="50.90" font-size="23" text-anchor="start" style="font-family:'Liberation Sans',sans-serif;font-weight:normal;">)</text>
<path d="M425.70,76.90 L423.35,76.90 L423.35,70.19 L421.16,70.19 L421.16,68.79 Q422.93,68.65 423.63,67.04 L425.70,67.04 Z" fill="#000"/>
<text x="420.00" y="104.80" font-size="14" text-anchor="start" style="font-family:'Liberation Sans',sans-serif;font-weight:bold;" stroke="#000" stroke-width="0.3" stroke-linejoin="round">2</text>
<text x="420.00" y="135.50" font-size="14" text-anchor="start" style="font-family:'Liberation Sans',sans-serif;font-weight:bold;" stroke="#000" stroke-width="0.3" stroke-linejoin="round">3</text>
<text x="420.00" y="163.50" font-size="14" text-anchor="start" style="font-family:'Liberation Sans',sans-serif;font-weight:bold;" stroke="#000" stroke-width="0.3" stroke-linejoin="round">5</text>
</svg>
</body></html>
